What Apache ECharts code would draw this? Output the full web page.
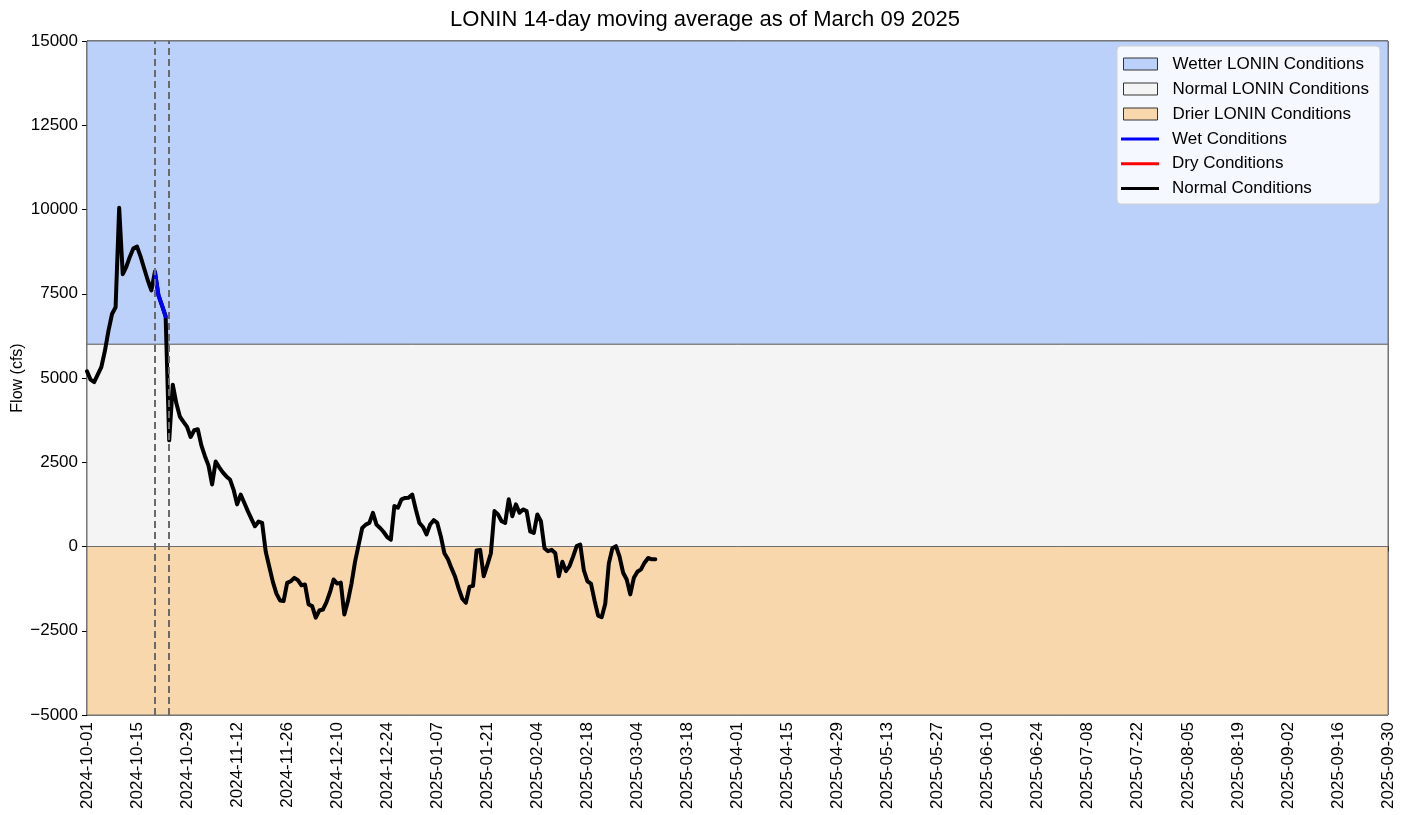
<!DOCTYPE html>
<html>
<head>
<meta charset="utf-8">
<script src="https://cdn.jsdelivr.net/npm/echarts@6/dist/echarts.min.js"></script>
<style>
html,body{margin:0;padding:0;background:#fff;}
#chart{width:1410px;height:815px;}
</style>
</head>
<body>
<div id="chart"></div>
<script>
// ---- data ----
const startDate = '2024-10-01';
const totalDays = 364;           // 2024-10-01 .. 2025-09-30
const tickEveryDays = 14;
// daily 14-day moving average flow (cfs), 2024-10-01 .. 2025-03-09
const flow = [
  5200, 4950, 4880, 5100, 5320, 5800, 6400, 6900, 7100, 10050,
  8080, 8300, 8600, 8850, 8900, 8600, 8250, 7900, 7600, 8150,
  7450, 7150, 6830, 3150, 4800, 4250, 3850, 3700, 3550, 3250,
  3450, 3480, 3000, 2680, 2400, 1840, 2520, 2350, 2200, 2080,
  1990, 1690, 1250, 1540, 1300, 1050, 820, 600, 740, 700,
  -150, -600, -1050, -1400, -1600, -1620, -1080, -1030, -930, -1000,
  -1150, -1130, -1720, -1770, -2110, -1900, -1870, -1650, -1350, -980,
  -1100, -1070, -2020, -1620, -1100, -450, 50, 550, 650, 700,
  1000, 650, 550, 430, 280, 200, 1200, 1150, 1400, 1440,
  1450, 1540, 1100, 700, 580, 360, 650, 780, 700, 300,
  -200, -380, -650, -900, -1250, -1550, -1670, -1200, -1170, -120,
  -100, -880, -550, -200, 1050, 950, 750, 700, 1400, 900,
  1250, 1000, 1100, 1050, 450, 400, 950, 750, -50, -140,
  -100, -190, -880, -450, -730, -580, -300, 10, 60, -700,
  -1030, -1100, -1600, -2050, -2100, -1700, -500, -50, 10, -300,
  -780, -980, -1420, -930, -750, -680, -480, -340, -380, -380
];
const wetDays = [19, 20, 21, 22];      // day indices flagged wet
const dryDays = [];                    // none
const dashedDays = [19, 23];           // vertical markers
const wetterBand = [6000, 15000];
const normalBand = [0, 6000];
const drierBand = [-5000, 0];
const yMin = -5000, yMax = 15000, yInterval = 2500;

// ---- helpers ----
const t0 = Date.UTC(2024, 9, 1);
function dayLabel(i) {
  return new Date(t0 + i * 86400000).toISOString().slice(0, 10);
}
const FONT = 'Liberation Sans, Arial, sans-serif';

const mainData = flow.map((v, i) => [i, v]);
const wetData = wetDays.map(i => [i, flow[i]]);
const dryData = dryDays.map(i => [i, flow[i]]);

const bandColors = { wet: '#bbd1f9', normal: '#f4f4f4', dry: '#f9d7ad' };

function bandSeries(name, band, color) {
  return {
    name: name, type: 'line', data: [], z: -1, color: color,
    markArea: {
      silent: true,
      itemStyle: { color: color, borderColor: '#6e6e6e', borderWidth: 1 },
      data: [[{ yAxis: band[0] }, { yAxis: band[1] }]]
    }
  };
}

const chart = echarts.init(document.getElementById('chart'));
chart.setOption({
  backgroundColor: '#ffffff',
  animation: false,
  title: {
    text: 'LONIN 14-day moving average as of March 09 2025',
    left: 700, top: 4, textAlign: 'center',
    textStyle: { fontFamily: FONT, fontSize: 22, fontWeight: 'normal', color: '#000' }
  },
  grid: {
    left: 87, right: 22, top: 41, bottom: 100, outerBoundsMode: 'none', containLabel: false,
    show: true, borderColor: '#000', borderWidth: 1, backgroundColor: 'transparent'
  },
  xAxis: {
    type: 'value', min: 0, max: totalDays, interval: tickEveryDays,
    splitLine: { show: false },
    axisLine: { lineStyle: { color: '#000', width: 1 } },
    axisTick: { show: true, length: 5, lineStyle: { color: '#000' } },
    axisLabel: {
      rotate: 90, margin: 7, color: '#000', fontFamily: FONT, fontSize: 17,
      formatter: v => dayLabel(v)
    }
  },
  yAxis: {
    type: 'value', min: yMin, max: yMax, interval: yInterval,
    name: 'Flow (cfs)', nameLocation: 'middle', nameGap: 61, nameRotate: 90,
    nameMoveOverlap: false,
    nameTextStyle: { fontFamily: FONT, fontSize: 16, color: '#000' },
    splitLine: { show: false },
    axisLine: { show: true, lineStyle: { color: '#000', width: 1 } },
    axisTick: { show: true, length: 5, lineStyle: { color: '#000' } },
    axisLabel: {
      margin: 9, color: '#000', fontFamily: FONT, fontSize: 17,
      formatter: v => String(v).replace('-', '\u2212')
    }
  },
  graphic: [{
    type: 'rect', z: 10,
    shape: { x: 1117, y: 46, width: 263, height: 158, r: 4 },
    style: { fill: 'rgba(255,255,255,0.85)', stroke: '#d0d0d0', lineWidth: 1 }
  }],
  legend: [{
    z: 20, orient: 'vertical', left: 1123, top: 54, padding: 0,
    itemWidth: 34, itemHeight: 12, itemGap: 5, selectedMode: false,
    textStyle: { fontFamily: FONT, fontSize: 17, color: '#000', lineHeight: 20, padding: [0, 0, 0, 10] },
    data: [
      { name: 'Wetter LONIN Conditions', icon: 'rect', itemStyle: { color: bandColors.wet, borderColor: '#333', borderWidth: 1 } },
      { name: 'Normal LONIN Conditions', icon: 'rect', itemStyle: { color: bandColors.normal, borderColor: '#333', borderWidth: 1 } },
      { name: 'Drier LONIN Conditions', icon: 'rect', itemStyle: { color: bandColors.dry, borderColor: '#333', borderWidth: 1 } }
    ]
  }, {
    z: 20, orient: 'vertical', left: 1121, top: 129, padding: 0,
    itemWidth: 38, itemHeight: 3, itemGap: 4.8, selectedMode: false,
    textStyle: { fontFamily: FONT, fontSize: 17, color: '#000', lineHeight: 20, padding: [0, 0, 0, 8] },
    data: [
      { name: 'Wet Conditions', icon: 'rect', itemStyle: { color: '#0000ff' } },
      { name: 'Dry Conditions', icon: 'rect', itemStyle: { color: '#ff0000' } },
      { name: 'Normal Conditions', icon: 'rect', itemStyle: { color: '#000000' } }
    ]
  }],
  series: [
    bandSeries('Wetter LONIN Conditions', wetterBand, bandColors.wet),
    bandSeries('Normal LONIN Conditions', normalBand, bandColors.normal),
    bandSeries('Drier LONIN Conditions', drierBand, bandColors.dry),
    {
      name: 'Normal Conditions', type: 'line', data: mainData, z: 3,
      color: '#000', showSymbol: false, symbol: 'none',
      lineStyle: { color: '#000', width: 4, join: 'round', cap: 'round' },
      markLine: {
        silent: true, symbol: 'none', label: { show: false },
        lineStyle: { color: '#6a6a6a', type: [7, 4], width: 2 },
        data: dashedDays.map(d => ({ xAxis: d }))
      }
    },
    {
      name: 'Wet Conditions', type: 'line', data: wetData, z: 4,
      color: '#0000ff', showSymbol: false, symbol: 'none',
      lineStyle: { color: '#0000ff', width: 4, join: 'round', cap: 'round' }
    },
    {
      name: 'Dry Conditions', type: 'line', data: dryData, z: 4,
      color: '#ff0000', showSymbol: false, symbol: 'none',
      lineStyle: { color: '#ff0000', width: 4 }
    }
  ]
});
</script>
</body>
</html>
